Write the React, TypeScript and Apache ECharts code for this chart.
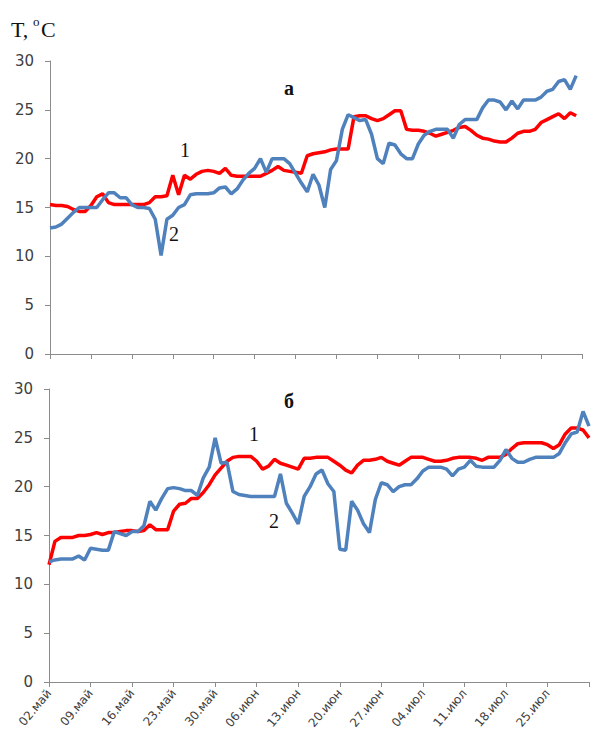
import React, { useEffect, useRef } from "react";
import * as echarts from "echarts";

const monthNames = ["май", "июн", "июл", "авг"];
const monthLengths = [31, 30, 31, 31];
function buildDates(startDay: number, count: number): string[] {
  const out: string[] = [];
  let m = 0;
  let d = startDay;
  for (let i = 0; i < count; i++) {
    out.push((d < 10 ? "0" : "") + d + "." + monthNames[m]);
    d++;
    if (d > monthLengths[m]) {
      d = 1;
      m++;
    }
  }
  return out;
}
const categories = buildDates(2, 92);

const yTicks = [0, 5, 10, 15, 20, 25, 30];

// Panel а
const topSeries1 = [
  15.3, 15.2, 15.2, 15.1, 14.8, 14.6, 14.6, 15.2, 16.1, 16.4,
  15.5, 15.3, 15.3, 15.3, 15.3, 15.3, 15.3, 15.5, 16.1, 16.1,
  16.2, 18.3, 16.3, 18.3, 17.9, 18.4, 18.7, 18.8, 18.7, 18.5,
  19.0, 18.3, 18.2, 18.2, 18.2, 18.2, 18.2, 18.5, 18.8, 19.2,
  18.8, 18.7, 18.6, 18.5, 20.3, 20.5, 20.6, 20.7, 20.9, 21.0,
  21.0, 21.0, 24.3, 24.4, 24.4, 24.1, 23.9, 24.1, 24.5, 24.9,
  24.9, 23.0, 22.9, 22.9, 22.8, 22.6, 22.3, 22.5, 22.7, 22.9,
  23.2, 23.3, 22.9, 22.4, 22.1, 22.0, 21.8, 21.7, 21.7, 22.1,
  22.6, 22.8, 22.8, 23.0, 23.7, 24.0, 24.3, 24.6, 24.1, 24.7,
  24.4,
];
const topSeries2 = [
  12.9, 13.0, 13.3, 13.9, 14.5, 15.0, 15.0, 15.0, 15.0, 15.8,
  16.5, 16.5, 16.0, 16.0, 15.3, 15.0, 15.0, 14.9, 13.8, 10.1,
  13.8, 14.2, 15.0, 15.3, 16.3, 16.4, 16.4, 16.4, 16.5, 17.0,
  17.1, 16.4, 16.9, 17.8, 18.5, 19.0, 20.0, 18.6, 20.0, 20.0,
  20.0, 19.5, 18.5, 17.5, 16.6, 18.4, 17.3, 15.0, 18.9, 19.8,
  23.0, 24.5, 24.2, 23.9, 24.0, 22.5, 20.0, 19.5, 21.6, 21.4,
  20.5, 20.0, 20.0, 21.5, 22.4, 22.8, 23.0, 23.0, 23.0, 22.1,
  23.5, 24.0, 24.0, 24.0, 25.2, 26.0, 26.0, 25.8, 25.0, 25.9,
  25.1, 26.0, 26.0, 26.0, 26.3, 26.9, 27.1, 27.9, 28.1, 27.1,
  28.5,
];

// Panel б
const bottomSeries1 = [
  12.0, 14.4, 14.8, 14.8, 14.8, 15.0, 15.0, 15.1, 15.3, 15.1,
  15.3, 15.3, 15.4, 15.5, 15.5, 15.4, 15.5, 16.1, 15.6, 15.6,
  15.6, 17.5, 18.2, 18.3, 18.8, 18.8, 19.4, 20.2, 21.2, 21.9,
  22.6, 23.0, 23.1, 23.1, 23.1, 22.6, 21.8, 22.1, 22.8, 22.4,
  22.2, 22.0, 21.8, 22.9, 22.9, 23.0, 23.0, 23.0, 22.6, 22.2,
  21.7, 21.4, 22.2, 22.7, 22.7, 22.8, 23.0, 22.6, 22.4, 22.2,
  22.6, 23.0, 23.0, 23.0, 22.8, 22.6, 22.6, 22.7, 22.9, 23.0,
  23.0, 23.0, 22.9, 22.7, 23.0, 23.0, 23.0, 23.3, 23.9, 24.4,
  24.5, 24.5, 24.5, 24.5, 24.3, 23.9, 24.3, 25.4, 26.0, 26.0,
  25.8, 25.0,
];
const bottomSeries2 = [
  12.3, 12.5, 12.6, 12.6, 12.6, 12.9, 12.5, 13.7, 13.6, 13.5,
  13.5, 15.4, 15.2, 15.0, 15.4, 15.4, 16.0, 18.5, 17.6, 18.8,
  19.8, 19.9, 19.8, 19.6, 19.6, 19.1, 20.9, 22.0, 25.0, 22.4,
  22.5, 19.5, 19.2, 19.1, 19.0, 19.0, 19.0, 19.0, 19.0, 21.3,
  18.3, 17.3, 16.2, 19.0, 20.0, 21.3, 21.7, 20.3, 19.5, 13.6,
  13.5, 18.5, 17.6, 16.2, 15.3, 18.7, 20.4, 20.2, 19.5, 20.0,
  20.2, 20.2, 20.8, 21.6, 22.0, 22.0, 22.0, 21.8, 21.1, 21.8,
  22.0, 22.7, 22.1, 22.0, 22.0, 22.0, 22.7, 23.8, 22.9, 22.5,
  22.5, 22.8, 23.0, 23.0, 23.0, 23.0, 23.4, 24.5, 25.4, 25.6,
  27.7, 26.2,
];

const RED = "#ff0000";
const BLUE = "#4f81bd";
const AXIS = "#8c8c8c";
const LABEL = "#404040";
const SERIF = "'Liberation Serif', 'DejaVu Serif', serif";
const SANS = "'DejaVu Sans', Verdana, sans-serif";

export default function App() {
  const ref = useRef<HTMLDivElement>(null);
  useEffect(() => {
    if (!ref.current) return;
    const chart = echarts.init(ref.current, undefined, { renderer: "svg" });
    const labelInterval = (i: number) => i % 7 === 0 && i < 91;
    const makeX = (gridIndex: number, showLabels: boolean) => ({
      type: "category" as const,
      gridIndex,
      data: categories,
      boundaryGap: false,
      axisLine: { show: true, lineStyle: { color: AXIS, width: 1 } },
      axisTick: { show: true, interval: 6, length: 5, lineStyle: { color: AXIS } },
      axisLabel: {
        show: showLabels,
        interval: (i: number) => labelInterval(i),
        rotate: 50,
        fontFamily: SANS,
        fontSize: 12,
        color: LABEL,
        margin: 9,
      },
      splitLine: { show: false },
    });
    const makeY = (gridIndex: number) => ({
      type: "value" as const,
      gridIndex,
      min: yTicks[0],
      max: yTicks[yTicks.length - 1],
      interval: 5,
      axisLine: { show: true, lineStyle: { color: AXIS, width: 1 } },
      axisTick: { show: true, length: 5, lineStyle: { color: AXIS } },
      axisLabel: { fontFamily: SANS, fontSize: 15, color: LABEL, margin: 16 },
      splitLine: { show: false },
    });
    const line = (name: string, data: number[], color: string, idx: number) => ({
      name,
      type: "line" as const,
      xAxisIndex: idx,
      yAxisIndex: idx,
      data,
      showSymbol: false,
      symbol: "none",
      lineStyle: { color, width: 3.5 },
      itemStyle: { color },
      z: color === RED ? 2 : 3,
    });
    const txt = (x: number, y: number, text: string, size: number, weight = "normal") => ({
      type: "text" as const,
      left: x,
      top: y,
      style: { text, fontFamily: SERIF, fontSize: size, fontWeight: weight, fill: "#111" },
    });
    chart.setOption({
      animation: false,
      backgroundColor: "#ffffff",
      grid: [
        { left: 50, top: 61, width: 532, height: 293 },
        { left: 49, top: 389, width: 540, height: 293 },
      ],
      xAxis: [makeX(0, false), makeX(1, true)],
      yAxis: [makeY(0), makeY(1)],
      series: [
        line("1", topSeries1, RED, 0),
        line("2", topSeries2, BLUE, 0),
        line("1", bottomSeries1, RED, 1),
        line("2", bottomSeries2, BLUE, 1),
      ],
      graphic: [
        txt(11, 18, "T,", 22),
        txt(33, 15, "o", 13),
        txt(41, 18, "C", 22),
        txt(284, 78, "а", 20, "bold"),
        txt(284, 391, "б", 20, "bold"),
        txt(180, 140, "1", 20),
        txt(169, 224, "2", 20),
        txt(249, 424, "1", 20),
        txt(269, 511, "2", 20),
      ],
    });
    return () => chart.dispose();
  }, []);
  return <div ref={ref} style={{ width: 595, height: 740, position: "absolute", left: 0, top: 0 }} />;
}
